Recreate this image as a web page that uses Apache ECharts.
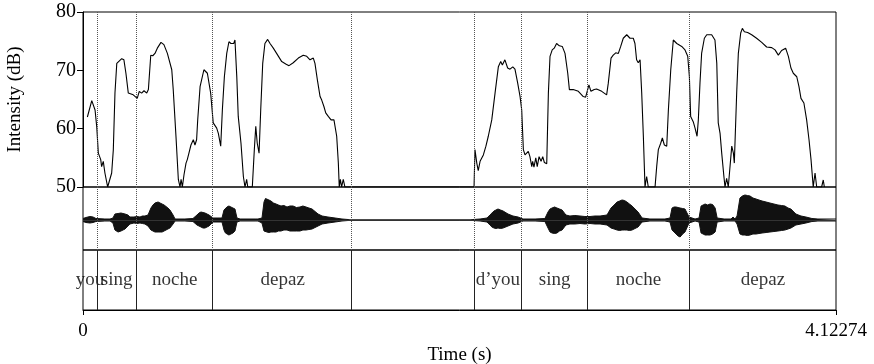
<!DOCTYPE html>
<html>
<head>
<meta charset="utf-8">
<script src="https://cdn.jsdelivr.net/npm/echarts@6/dist/echarts.min.js"></script>
<style>
  html, body { margin: 0; padding: 0; background: #fff; }
  #chart { width: 874px; height: 364px; }
</style>
</head>
<body>
<div id="chart"></div>
<script>
// intensity contour (s, dB) - floor of the panel is 50 dB
const intensityTime = [
  0.024, 0.048, 0.066, 0.075, 0.084, 0.097, 0.102, 0.111, 0.120, 0.135, 0.142, 0.157, 0.166, 0.175, 0.185,
  0.212, 0.224, 0.235, 0.248, 0.275, 0.297, 0.308, 0.321, 0.334, 0.349, 0.358, 0.371, 0.382, 0.394, 0.407,
  0.427, 0.443, 0.462, 0.486, 0.494, 0.509, 0.522, 0.531, 0.537, 0.544, 0.553, 0.564, 0.571, 0.580, 0.591,
  0.604, 0.613, 0.622, 0.628, 0.641, 0.662, 0.681, 0.699, 0.713, 0.732, 0.741, 0.754, 0.763, 0.774, 0.787,
  0.799, 0.810, 0.817, 0.825, 0.832, 0.842, 0.850, 0.865, 0.878, 0.887, 0.896, 0.902, 0.927, 0.938, 0.946,
  0.954, 0.964, 0.973, 0.984, 0.996, 1.011, 1.024, 1.042, 1.060, 1.088, 1.110, 1.128, 1.151, 1.179, 1.206,
  1.225, 1.243, 1.261, 1.270, 1.283, 1.298, 1.307, 1.319, 1.329, 1.343, 1.358, 1.374, 1.389, 1.398, 1.403,
  1.409, 1.416, 1.425, 1.434,
  2.141, 2.146, 2.156, 2.164, 2.174, 2.183, 2.192, 2.206, 2.219, 2.238, 2.256, 2.274, 2.287, 2.296, 2.310,
  2.325, 2.338, 2.353, 2.365, 2.380, 2.393, 2.402, 2.411, 2.420, 2.429, 2.438, 2.447, 2.457, 2.462, 2.469,
  2.479, 2.487, 2.497, 2.508, 2.517, 2.526, 2.539, 2.548, 2.557, 2.569, 2.580, 2.593, 2.608, 2.624, 2.639,
  2.654, 2.663, 2.684, 2.712, 2.739, 2.752, 2.763, 2.770, 2.781, 2.799, 2.812, 2.840, 2.867, 2.876, 2.891,
  2.903, 2.917, 2.931, 2.944, 2.958, 2.977, 2.995, 3.013, 3.022, 3.031, 3.040, 3.050, 3.059, 3.068, 3.077,
  3.086, 3.095, 3.132, 3.141, 3.150, 3.163, 3.172, 3.183, 3.196, 3.205, 3.218, 3.232, 3.251, 3.278, 3.296,
  3.311, 3.320, 3.327, 3.341, 3.351, 3.362, 3.369, 3.378, 3.387, 3.402, 3.415, 3.442, 3.451, 3.460, 3.470,
  3.478, 3.488, 3.497, 3.509, 3.515, 3.524, 3.533, 3.542, 3.552, 3.561, 3.566, 3.579, 3.588, 3.601, 3.610,
  3.621, 3.639, 3.661, 3.688, 3.716, 3.743, 3.771, 3.789, 3.807, 3.825, 3.847, 3.862, 3.876, 3.889, 3.908,
  3.920, 3.931, 3.947, 3.962, 3.975, 3.986, 3.998, 4.008, 4.017, 4.044, 4.053, 4.059
];
const intensityDb = [
  62.0, 64.8, 63.2, 60.4, 55.8, 54.7, 53.5, 54.4, 52.4, 50.0, 50.0, 52.4, 56.4, 66.1, 71.2,
  72.0, 71.8, 69.5, 66.1, 65.8, 65.2, 66.4, 66.1, 66.5, 66.1, 66.7, 72.6, 72.5, 72.9, 73.8,
  74.8, 74.4, 72.9, 70.1, 66.7, 58.7, 51.3, 50.0, 51.3, 50.0, 52.1, 54.1, 54.7, 55.8, 57.2,
  58.1, 57.2, 58.1, 61.5, 67.2, 70.1, 69.5, 66.1, 61.0, 60.1, 59.2, 57.0, 63.2, 68.9, 72.9,
  74.9, 74.6, 74.9, 74.6, 75.2, 68.9, 62.1, 57.5, 51.8, 50.0, 51.3, 50.0, 50.0, 56.4, 60.4,
  57.5, 55.8, 63.2, 71.2, 74.6, 75.3, 74.6, 73.8, 72.9, 71.5, 71.1, 70.8, 71.3, 72.1, 72.6,
  72.4, 71.8, 72.1, 71.2, 68.4, 65.5, 64.9, 63.8, 62.7, 62.1, 61.5, 61.5, 58.7, 54.1, 50.0,
  51.3, 50.0, 51.3, 50.0,
  50.0, 56.4, 54.1, 52.8, 54.4, 54.1, 55.5, 57.0, 58.7, 61.5, 66.1, 70.6, 71.5, 70.9, 71.8,
  70.4, 70.2, 70.6, 70.2, 67.8, 65.5, 63.2, 56.4, 55.5, 55.8, 56.1, 55.2, 53.5, 54.4, 53.4,
  55.0, 53.5, 55.2, 54.4, 55.2, 54.2, 54.0, 66.1, 72.4, 73.5, 73.8, 74.6, 74.2, 74.1, 72.9,
  69.5, 66.7, 66.7, 66.4, 65.5, 65.4, 66.7, 67.5, 66.4, 66.7, 66.8, 66.4, 65.8, 67.8, 72.1,
  72.6, 73.0, 72.9, 74.1, 75.5, 76.1, 75.5, 75.5, 74.6, 71.8, 71.3, 71.8, 66.1, 58.7, 50.0,
  51.8, 50.0, 50.0, 53.5, 56.4, 57.5, 58.4, 57.2, 57.0, 63.2, 70.1, 75.2, 74.6, 74.1, 73.5,
  72.4, 68.9, 62.1, 61.2, 60.1, 58.7, 61.5, 67.8, 72.9, 75.5, 76.1, 76.1, 76.1, 75.2, 71.2,
  61.0, 59.2, 55.8, 51.8, 50.0, 51.5, 50.0, 50.0, 57.0, 55.8, 54.1, 66.1, 72.9, 76.4, 77.2,
  76.6, 76.5, 76.1, 75.5, 74.8, 74.0, 73.9, 73.5, 72.6, 73.4, 73.8, 72.4, 70.4, 69.5, 68.9,
  67.2, 65.2, 64.4, 61.5, 58.1, 54.7, 50.0, 52.4, 50.0, 50.0, 51.2, 50.0
];

// waveform envelope (s, amplitude in arbitrary units)
const waveTime = [
  0.000, 0.016, 0.038, 0.055, 0.071, 0.077, 0.120, 0.148, 0.164, 0.175, 0.184, 0.192, 0.200, 0.208, 0.219,
  0.230, 0.246, 0.257, 0.279, 0.295, 0.312, 0.325, 0.339, 0.356, 0.372, 0.383, 0.394, 0.402, 0.411, 0.422,
  0.433, 0.444, 0.454, 0.465, 0.476, 0.493, 0.504, 0.558, 0.602, 0.624, 0.635, 0.646, 0.657, 0.668, 0.690,
  0.712, 0.739, 0.761, 0.772, 0.780, 0.788, 0.799, 0.810, 0.821, 0.832, 0.843, 0.860, 0.942, 0.947, 0.958,
  0.980, 0.991, 0.999, 1.007, 1.018, 1.029, 1.043, 1.057, 1.070, 1.084, 1.100, 1.117, 1.133, 1.150, 1.169,
  1.188, 1.204, 1.221, 1.237, 1.254, 1.287, 1.309, 1.341, 1.380, 1.418, 1.451, 1.462, 2.119, 2.135, 2.174,
  2.212, 2.228, 2.239, 2.250, 2.261, 2.272, 2.286, 2.300, 2.327, 2.354, 2.382, 2.409, 2.475, 2.529, 2.546,
  2.557, 2.568, 2.582, 2.595, 2.609, 2.623, 2.644, 2.666, 2.693, 2.721, 2.748, 2.776, 2.803, 2.831, 2.869,
  2.891, 2.908, 2.924, 2.938, 2.951, 2.965, 2.978, 2.992, 3.006, 3.039, 3.061, 3.104, 3.186, 3.214, 3.225,
  3.236, 3.247, 3.258, 3.269, 3.283, 3.296, 3.318, 3.351, 3.373, 3.384, 3.395, 3.406, 3.420, 3.433, 3.447,
  3.461, 3.472, 3.510, 3.548, 3.559, 3.570, 3.581, 3.597, 3.610, 3.624, 3.638, 3.652, 3.668, 3.685, 3.701,
  3.718, 3.740, 3.761, 3.783, 3.805, 3.824, 3.843, 3.860, 3.876, 3.903, 3.931, 3.958, 3.991, 4.024, 4.123
];
const waveUpper = [
  1.5, 2.5, 3.5, 3, 1.5, 1, 1, 1, 2, 6, 7.5, 6.5, 7.5, 7, 6.5,
  6, 5, 3, 3, 3.5, 3, 4, 4, 5, 12, 15, 17, 18.5, 18, 17,
  16, 15, 14, 12, 10, 5, 1, 1, 1.5, 5, 7, 8, 7.5, 7, 5,
  2, 2, 2, 10, 12, 13, 14, 13, 12, 11, 2, 1, 1, 3, 1,
  2, 18, 21.5, 21, 20, 19, 17, 16, 15, 14, 14.5, 13, 14, 14, 12.5,
  13, 14, 13, 12, 11, 6, 4, 3, 2, 1, 0.5, 0, 0, 0.5, 1,
  2, 5, 7, 9, 10, 11, 10, 9, 6, 4, 3, 1, 1, 1.5, 8,
  11, 12, 13, 12, 11, 10, 5, 4, 4.5, 4, 3.5, 3.5, 4, 4, 5,
  12, 15, 18, 19, 20, 19.5, 18, 16, 14, 8, 2, 1, 1, 2, 12,
  13, 13, 12.5, 12, 11.5, 11, 3, 1, 2, 14, 15, 16, 15, 16, 15.5,
  12, 2, 1, 1, 3, 1, 4, 22, 24, 25, 24.5, 24, 22, 21, 20,
  19, 18, 17, 16, 15, 14.5, 14, 12, 11, 6, 4, 3, 1.5, 1, 1
];
const waveLower = [
  -1.5, -2.5, -3, -2.5, -1.5, -1, -1, -1, -3, -10, -11, -12, -11.5, -11, -10,
  -9, -6, -4, -3, -3.5, -3, -3.5, -4, -6, -10, -11, -12, -12.5, -12, -12,
  -12, -11, -10, -9, -8, -4, -1, -1, -1.5, -5, -6, -7, -8, -8, -6,
  -2, -2, -2, -10, -13, -15, -15, -14, -13, -11, -2, -1, -1, -1, -1,
  -3, -11, -12, -12, -12.5, -12, -12, -12, -11, -11, -10, -10, -11, -11, -11,
  -11, -10, -10, -9.5, -9, -6, -4, -3, -2, -1, -0.5, 0, 0, -0.5, -1,
  -2, -5, -7, -8, -8.5, -8, -8.5, -8, -6, -4, -3, -1, -1, -1.5, -8,
  -12, -13, -13.5, -13, -11, -10, -5, -4, -4, -3.5, -4, -3.5, -4, -4, -5,
  -8, -9, -10, -10.5, -10, -10, -10, -10.5, -10, -7, -2, -1, -1, -2, -10,
  -12, -14, -16, -17, -14, -12, -3, -1, -2, -13, -14, -15, -15, -15, -14,
  -12, -2, -1, -1, -1, -1, -4, -14, -15, -15, -15.5, -15, -14, -14, -13.5,
  -13, -12.5, -12, -11.5, -11, -10.5, -10, -9, -8, -5, -4, -3, -1.5, -1, -1
];

// word tier
const boundaries = [0.077, 0.292, 0.713, 1.474, 2.138, 2.405, 2.759, 3.323];
const tierEdges = [0, 0.077, 0.292, 0.713, 1.474, 2.138, 2.405, 2.759, 3.323, 4.12274];
const tierWords = ['you', 'sing', 'noche', 'depaz', '', 'd\u2019you', 'sing', 'noche', 'depaz'];

const totalDur = 4.12274;
const font = '"Liberation Serif", "Times New Roman", serif';

const intensityData = intensityTime.map((t, i) => [t, intensityDb[i]]);
const upperData = waveTime.map((t, i) => [t, waveUpper[i]]);
const lowerData = waveTime.map((t, i) => [t, waveLower[i]]);
const wordData = tierWords.map((w, i) => ({
  value: [(tierEdges[i] + tierEdges[i + 1]) / 2, 0.5],
  name: w
}));

const chart = echarts.init(document.getElementById('chart'));

const dotted = {
  silent: true,
  symbol: ['none', 'none'],
  label: { show: false },
  lineStyle: { type: 'dotted', color: '#555', width: 1 },
  data: boundaries.map((t) => ({ xAxis: t })),
  animation: false
};

const gridBase = {
  left: 83, right: 38, show: true, borderColor: '#000', borderWidth: 1,
  containLabel: false, outerBoundsMode: 'none'
};

const option = {
  animation: false,
  backgroundColor: '#fff',
  textStyle: { fontFamily: font, color: '#000' },
  grid: [
    Object.assign({}, gridBase, { top: 12, height: 175 }),
    Object.assign({}, gridBase, { top: 187, height: 63 }),
    Object.assign({}, gridBase, { top: 250, height: 60 })
  ],
  xAxis: [
    { gridIndex: 0, type: 'value', min: 0, max: totalDur, show: false },
    { gridIndex: 1, type: 'value', min: 0, max: totalDur, show: false },
    {
      gridIndex: 2, type: 'value', min: 0, max: totalDur,
      name: 'Time (s)', nameLocation: 'middle', nameGap: 36,
      nameTextStyle: { fontFamily: font, fontSize: 19, color: '#000' },
      axisLine: { show: true, lineStyle: { color: '#000', width: 1 } },
      axisTick: { show: true, length: 5, lineStyle: { color: '#000' }, customValues: [0, totalDur] },
      axisLabel: {
        fontFamily: font, fontSize: 19, color: '#000', margin: 12,
        customValues: [0, totalDur],
        formatter: (v) => (v === 0 ? '0' : '4.12274')
      },
      splitLine: { show: false }
    }
  ],
  yAxis: [
    {
      gridIndex: 0, type: 'value', min: 50, max: 80, interval: 10,
      name: 'Intensity (dB)', nameLocation: 'middle', nameRotate: 90, nameGap: 58,
      nameTextStyle: { fontFamily: font, fontSize: 19, color: '#000' },
      axisLine: { show: true, lineStyle: { color: '#000' } },
      axisTick: { show: true, inside: false, length: 6, lineStyle: { color: '#000' } },
      axisLabel: { fontFamily: font, fontSize: 20, color: '#000', margin: 7 },
      splitLine: { show: false }
    },
    { gridIndex: 1, type: 'value', min: -30, max: 33, show: false },
    { gridIndex: 2, type: 'value', min: 0, max: 1, show: false }
  ],
  series: [
    {
      name: 'intensity', type: 'line', xAxisIndex: 0, yAxisIndex: 0,
      data: intensityData, showSymbol: false, clip: true,
      lineStyle: { color: '#000', width: 1.1 },
      markLine: dotted
    },
    {
      name: 'wave+', type: 'line', xAxisIndex: 1, yAxisIndex: 1,
      data: upperData, showSymbol: false,
      lineStyle: { color: '#111', width: 1 },
      areaStyle: { color: '#111', opacity: 1 },
      markLine: dotted
    },
    {
      name: 'wave-', type: 'line', xAxisIndex: 1, yAxisIndex: 1,
      data: lowerData, showSymbol: false,
      lineStyle: { color: '#111', width: 1 },
      areaStyle: { color: '#111', opacity: 1 },
      markLine: {
        silent: true,
        symbol: ['none', 'none'],
        label: { show: false },
        lineStyle: { type: 'solid', color: '#333', width: 1 },
        data: [{ yAxis: 0 }]
      }
    },
    {
      name: 'words', type: 'scatter', xAxisIndex: 2, yAxisIndex: 2,
      data: wordData, symbolSize: 0, silent: true,
      label: {
        show: true, position: 'inside', formatter: (p) => p.name,
        fontFamily: font, fontSize: 19, color: '#000'
      },
      markLine: {
        silent: true,
        symbol: ['none', 'none'],
        label: { show: false },
        lineStyle: { type: 'solid', color: '#222', width: 1 },
        data: boundaries.map((t) => ({ xAxis: t }))
      }
    }
  ]
};

chart.setOption(option);
</script>
</body>
</html>
